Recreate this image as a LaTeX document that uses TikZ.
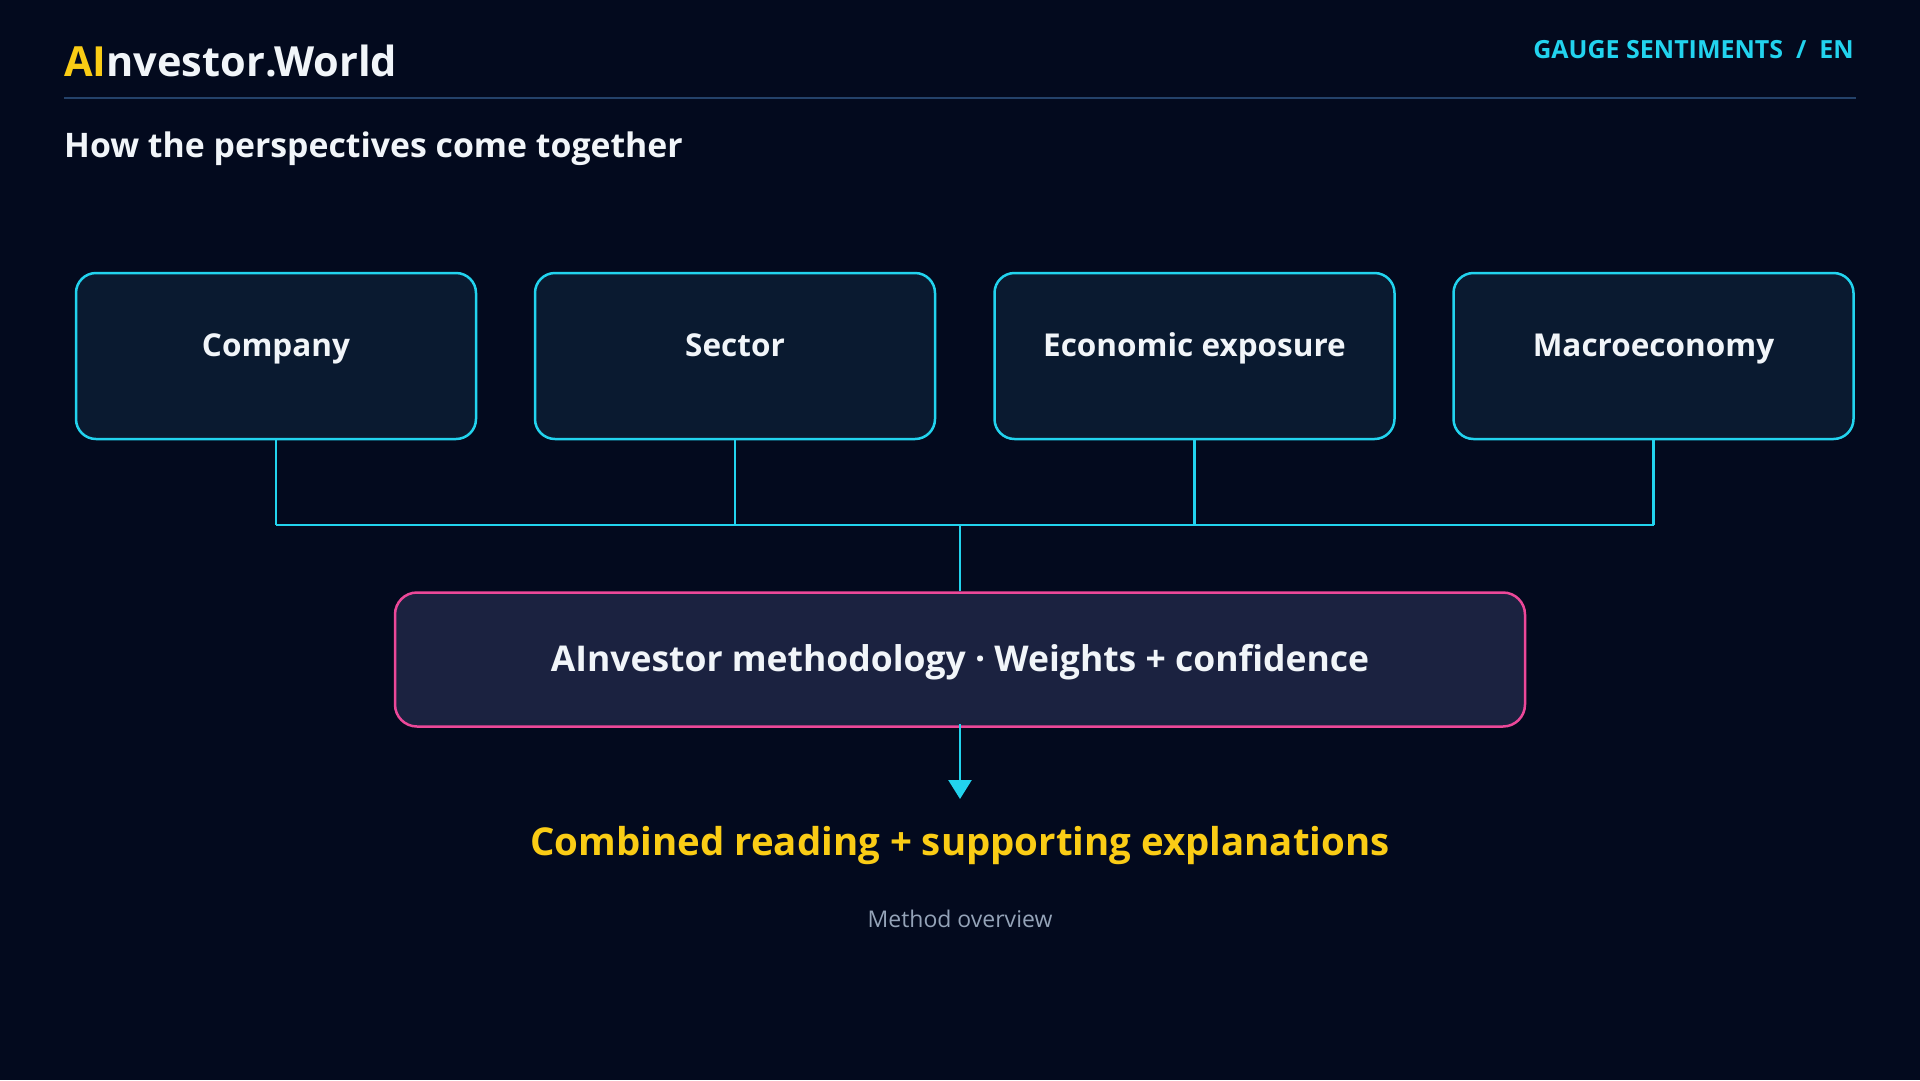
\documentclass[tikz,border=0pt]{standalone}
\usepackage{fontspec}
\setmainfont{Open Sans}
\usetikzlibrary{arrows.meta}

\definecolor{pagebg}{HTML}{030A1E}
\definecolor{cardfill}{HTML}{0A1A30}
\definecolor{hubfill}{HTML}{1B2240}
\definecolor{accent}{HTML}{22D3EE}
\definecolor{hotpink}{HTML}{EC4899}
\definecolor{gold}{HTML}{FACC15}
\definecolor{snow}{HTML}{F1F5F9}
\definecolor{muted}{HTML}{94A3B8}
\definecolor{rulecol}{HTML}{24426A}

\begin{document}
\begin{tikzpicture}[x=1pt,y=-1pt,
  card/.style={draw=accent,fill=cardfill,line width=2.5pt,rounded corners=20pt,
    minimum width=400pt,minimum height=166pt,text=snow,text height=21pt,text depth=21pt,
    font=\fontsize{31.5}{36}\selectfont\bfseries},
  hubbox/.style={draw=hotpink,fill=hubfill,line width=2.5pt,rounded corners=22pt,
    minimum width=1130pt,minimum height=134pt,text=snow,text height=26pt,text depth=2pt,
    font=\fontsize{35.5}{40}\selectfont\bfseries},
  wire/.style={draw=accent,line width=2.5pt}]
  \useasboundingbox[fill=pagebg] (0,0) rectangle (1920,1080);

  % header
  \node[anchor=base west,inner sep=0pt,font=\fontsize{41.5}{46}\selectfont\bfseries] (brand) at (64,76)
    {\textcolor{gold}{AI}\textcolor{snow}{nvestor.World}};
  \node[anchor=base east,inner sep=0pt,text=accent,font=\fontsize{25}{29}\selectfont\bfseries] (section) at (1854,58)
    {GAUGE SENTIMENTS \ / \ EN};
  \draw[rulecol,line width=1.5pt] (64,98) -- (1856,98);
  \node[anchor=base west,inner sep=0pt,text=snow,font=\fontsize{33.8}{38}\selectfont\bfseries] (heading) at (64,157)
    {How the perspectives come together};

  % perspectives
  \foreach \name/\xpos/\txt in {company/276/Company,sector/735/Sector,exposure/1194.5/Economic exposure,macro/1653.5/Macroeconomy} {
    \node[card] (\name) at (\xpos,356) {\txt};
  }
  \coordinate (join) at (960,525);
  \foreach \name in {company,sector,exposure,macro} {
    \draw[wire] (\name.south) -- (\name.south |- join);
  }
  \draw[wire] (company.south |- join) -- (macro.south |- join);

  % methodology
  \node[hubbox] (method) at (960,659.5) {AInvestor methodology · Weights + confidence};
  \draw[wire] (join) -- (method.north);

  % result
  \coordinate (tip) at (960,799);
  \draw[wire,-{Triangle[length=19pt,width=23pt]}] ([yshift=4pt]method.south) -- (tip);
  \node[anchor=base,inner sep=0pt,text=gold,font=\fontsize{38.4}{43}\selectfont\bfseries] (result) at (960,855)
    {Combined reading + supporting explanations};
  \node[anchor=base,inner sep=0pt,text=muted,font=\fontsize{23}{27}\selectfont] (caption) at (960,927)
    {Method overview};
\end{tikzpicture}
\end{document}
